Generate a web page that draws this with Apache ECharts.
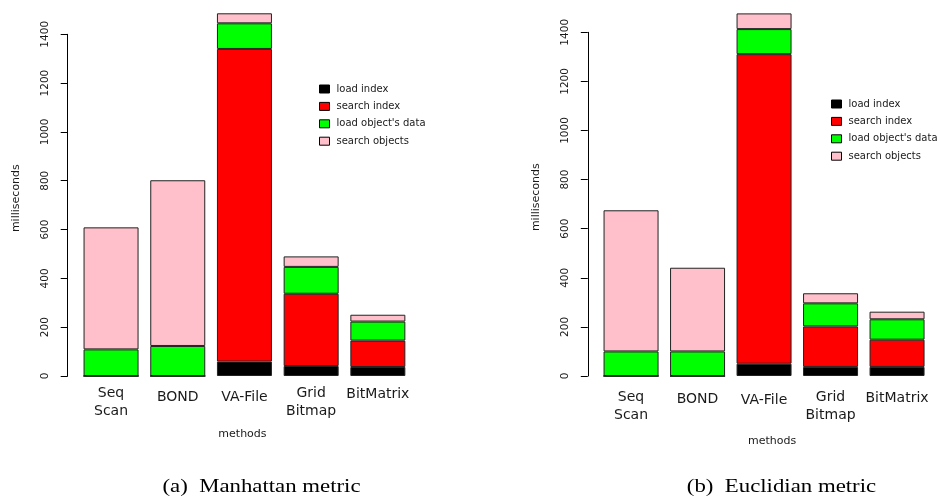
<!DOCTYPE html>
<html>
<head>
<meta charset="utf-8">
<script src="https://cdn.jsdelivr.net/npm/echarts@6/dist/echarts.min.js"></script>
<style>
html,body{margin:0;padding:0;background:#fff;}
#c{width:937px;height:501px;}
</style>
</head>
<body>
<div id="c"></div>
<script>
// ---- data ----
const categories = ['Seq\nScan', 'BOND', 'VA-File', 'Grid\nBitmap', 'BitMatrix'];
const seriesNames = ['load index', 'search index', "load object's data", 'search objects'];
const yTicks = [0, 200, 400, 600, 800, 1000, 1200, 1400];

// (a) Manhattan metric
const manLoadIndex   = [0, 0, 59, 41, 37];
const manSearchIndex = [0, 0, 1281, 296, 108];
const manLoadObj     = [109, 123, 105, 110, 78];
const manSearchObj   = [500, 679, 41, 43, 28];

// (b) Euclidian metric
const eucLoadIndex   = [0, 0, 50, 37, 37];
const eucSearchIndex = [0, 0, 1261, 165, 111];
const eucLoadObj     = [100, 100, 102, 94, 83];
const eucSearchObj   = [575, 341, 64, 41, 31];

const captions = ['(a)  Manhattan metric', '(b)  Euclidian metric'];

// ---- chart ----
const colors = ['#000000', '#ff0000', '#00ff00', '#ffc0cb'];
const txt = '#1a1a1a';
const sans = 'DejaVu Sans';

function catData(pads) {
  return categories.map((c, i) => ({ value: c, textStyle: { padding: [pads[i], 0, 0, 0] } }));
}

function xAxisFor(gi, margin, pads, nameGap, namePad) {
  return {
    type: 'category', gridIndex: gi, data: catData(pads),
    axisLine: { show: false }, axisTick: { show: false },
    axisLabel: { color: txt, fontFamily: sans, fontSize: 14, lineHeight: 18, margin: margin, interval: 0 },
    name: 'methods', nameLocation: 'middle', nameGap: nameGap,
    nameTextStyle: { color: txt, fontFamily: sans, fontSize: 11, padding: namePad }
  };
}
function yAxisFor(gi) {
  return {
    type: 'value', gridIndex: gi, min: yTicks[0], max: yTicks[yTicks.length - 1],
    interval: yTicks[1] - yTicks[0], offset: 10,
    axisLine: { show: true, lineStyle: { color: '#000', width: 1 } },
    axisTick: { show: true, length: 7, lineStyle: { color: '#000' } },
    splitLine: { show: false },
    axisLabel: { rotate: 90, color: txt, fontFamily: sans, fontSize: 10.5, margin: 17,
                 formatter: v => String(v) },
    name: 'milliseconds', nameLocation: 'middle', nameGap: 46,
    nameTextStyle: { color: txt, fontFamily: sans, fontSize: 11, padding: [0, 0, 0, 14] }
  };
}
function barSeries(gi, arrs) {
  return arrs.map((d, k) => ({
    name: seriesNames[k], type: 'bar', stack: 's' + gi,
    xAxisIndex: gi, yAxisIndex: gi, data: d, barWidth: 55, clip: false,
    itemStyle: { color: colors[k], borderColor: '#222', borderWidth: 1 },
    emphasis: { disabled: true }
  }));
}
function legendFor(left, top, textWidth) {
  const ts = { color: txt, fontFamily: sans, fontSize: 10, padding: [0, 0, 0, 2] };
  if (textWidth) { ts.width = textWidth; ts.overflow = 'truncate'; ts.ellipsis = ''; }
  return {
    orient: 'vertical', left: left, top: top, padding: 0, itemWidth: 10, itemHeight: 8, itemGap: 7.4,
    icon: 'rect', data: seriesNames, selectedMode: false,
    itemStyle: { borderColor: '#000', borderWidth: 1 },
    textStyle: ts
  };
}

const chart = echarts.init(document.getElementById('c'), null, { renderer: 'canvas' });
chart.setOption({
  animation: false,
  backgroundColor: '#fff',
  color: colors,
  grid: [
    { left: 77.7, right: 525.8, top: 34.3, bottom: 125 },
    { left: 597.8, right: 6.7, top: 32.3, bottom: 125 }
  ],
  xAxis: [
    xAxisFor(0, 8, [0, 4, 4, 0, 1], 53, [0, 4, 0, 0]),
    xAxisFor(1, 12, [0, 2, 3, 0, 1], 59.5, [0, 0, 0, 16])
  ],
  yAxis: [yAxisFor(0), yAxisFor(1)],
  legend: [legendFor(319, 84, 91), legendFor(831, 99, 0)],
  series: [].concat(
    barSeries(0, [manLoadIndex, manSearchIndex, manLoadObj, manSearchObj]),
    barSeries(1, [eucLoadIndex, eucSearchIndex, eucLoadObj, eucSearchObj])
  ),
  graphic: [
    { type: 'text', x: 261.5, y: 487, scaleX: 1.2,
      style: { text: captions[0], font: '19px "Liberation Serif"', fill: '#000', textAlign: 'center', textVerticalAlign: 'middle' } },
    { type: 'text', x: 781.5, y: 487, scaleX: 1.2,
      style: { text: captions[1], font: '19px "Liberation Serif"', fill: '#000', textAlign: 'center', textVerticalAlign: 'middle' } }
  ]
});
</script>
</body>
</html>
